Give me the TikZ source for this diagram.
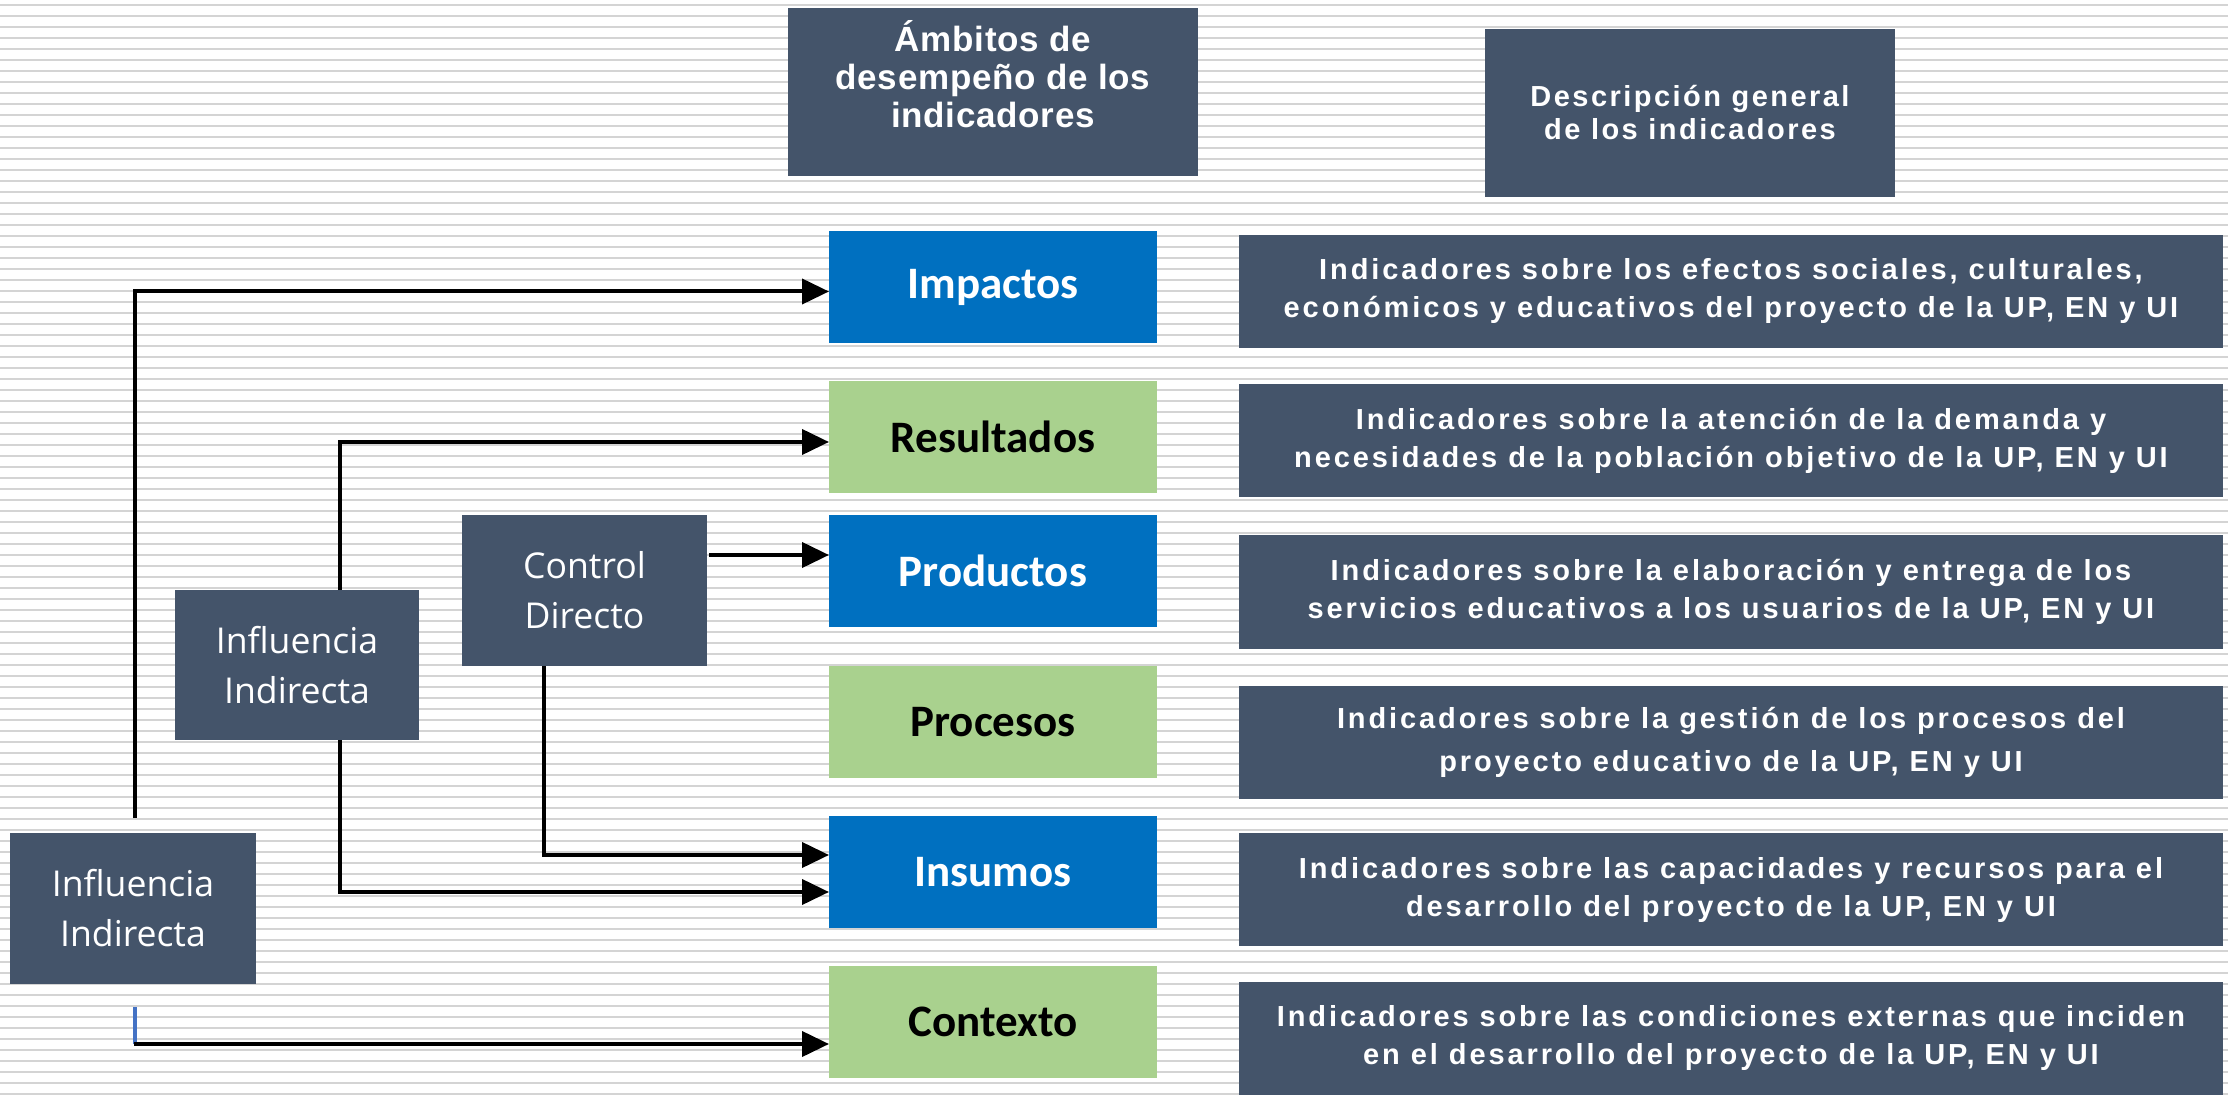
\documentclass[tikz,border=0pt]{standalone}
\usepackage{fontspec}
\usetikzlibrary{arrows.meta,calc}
\newfontfamily\arialsp{Liberation Sans}[LetterSpace=10]
\newfontfamily\arialhd{Liberation Sans}[LetterSpace=2]
\newfontfamily\arialdh{Liberation Sans}[LetterSpace=8.5]
\newfontfamily\carlito{Carlito}
\newfontfamily\opensans{Open Sans}
\definecolor{slate}{HTML}{44546A}
\definecolor{blueC}{HTML}{0070C0}
\definecolor{greenC}{HTML}{A9D18E}
\definecolor{stripeC}{HTML}{D4D4D4}
\definecolor{lineblue}{HTML}{4472C4}
\begin{document}
\begin{tikzpicture}[x=0.5pt,y=-0.5pt,
  basebox/.style={inner sep=0pt, outer sep=0pt, draw=none},
  slatebox/.style={basebox, fill=slate, text=white},
  midbox/.style={basebox, minimum width=164pt, minimum height=56pt, font=\carlito\bfseries\fontsize{22.5}{26}\selectfont},
  bluebox/.style={midbox, fill=blueC, text=white},
  greenbox/.style={midbox, fill=greenC, text=black},
  descbox/.style={slatebox, minimum width=492pt, minimum height=56.5pt, align=center, font=\arialsp\bfseries\fontsize{14.5}{19}\selectfont},
  inflbox/.style={slatebox, align=center, font=\opensans\fontsize{17.8}{25}\selectfont},
  conn/.style={line width=2pt, -{Triangle[length=13.5pt,width=12.5pt]}}]
\useasboundingbox (0,0) rectangle (2228,1096);
\fill[white] (0,0) rectangle (2228,1096);
\foreach \k in {0,...,99} \draw[stripeC, line width=1pt] (0,{5+11*\k}) -- (2228,{5+11*\k});

% headers
\node[slatebox, minimum width=205pt, minimum height=84pt] (h1) at (993,92)
  {\parbox[c][84pt][t]{205pt}{\centering\arialhd\bfseries\fontsize{17.5}{19}\selectfont\rule{0pt}{22pt}Ámbitos de\\desempeño de los\\indicadores\par}};
\node[slatebox, minimum width=205pt, minimum height=84pt, align=center, font=\arialdh\bfseries\fontsize{14.5}{16.5}\selectfont] (h2) at (1690,113)
  {Descripción general\\de los indicadores};

% middle column
\node[bluebox]  (imp) at (993,287)   {Impactos};
\node[greenbox] (res) at (993,437)   {Resultados};
\node[bluebox]  (pro) at (993,571)   {Productos};
\node[greenbox] (prc) at (993,722)   {Procesos};
\node[bluebox]  (ins) at (993,872)   {Insumos};
\node[greenbox] (ctx) at (993,1022)  {Contexto};

% descriptions
\node[descbox] (d1) at (1731,291.5) {Indicadores sobre los efectos sociales, culturales,\\económicos y educativos del proyecto de la UP, EN y UI};
\node[descbox] (d2) at (1731,441) {Indicadores sobre la atención de la demanda y\\necesidades de la población objetivo de la UP, EN y UI};
\node[descbox] (d3) at (1731,592) {Indicadores sobre la elaboración y entrega de los\\servicios educativos a los usuarios de la UP, EN y UI};
\node[descbox, font=\arialsp\bfseries\fontsize{14.5}{21.5}\selectfont] (d4) at (1731,742.5) {Indicadores sobre la gestión de los procesos del\\proyecto educativo de la UP, EN y UI};
\node[descbox] (d5) at (1731,889.5) {Indicadores sobre las capacidades y recursos para el\\desarrollo del proyecto de la UP, EN y UI};
\node[descbox] (d6) at (1731,1038) {Indicadores sobre las condiciones externas que inciden\\en el desarrollo del proyecto de la UP, EN y UI};

% left boxes
\node[inflbox, minimum width=123pt, minimum height=75.5pt] (ii1) at (133,908.5) {Influencia\\Indirecta};
\node[inflbox, minimum width=122pt, minimum height=75pt] (ii2) at (297,665) {Influencia\\Indirecta};
\node[inflbox, minimum width=122.5pt, minimum height=75.5pt] (cd) at (584.5,590.5) {Control\\Directo};

% connectors
\coordinate (s1) at (135,818);
\draw[conn] (s1) |- ([yshift=-2.25pt]imp.west);
\coordinate (s2a) at (135,1007);
\coordinate (s2b) at (135,1044);
\coordinate (s2c) at (134,1044);
\draw[lineblue, line width=2pt] (s2a) -- (s2b);
\draw[conn] (s2c) -- (s2c -| ctx.west);
\draw[conn] ([xshift=21.5pt]ii2.north) |- ([yshift=-2.5pt]res.west);
\draw[conn] ([xshift=21.5pt]ii2.south) |- ([yshift=-10pt]ins.west);
\coordinate (p1) at ([yshift=17.75pt,xshift=1pt]cd.east);
\draw[conn] (p1) -- (p1 -| pro.west);
\draw[conn] ([xshift=-20.25pt]cd.south) |- ([yshift=8.5pt]ins.west);
\end{tikzpicture}
\end{document}
